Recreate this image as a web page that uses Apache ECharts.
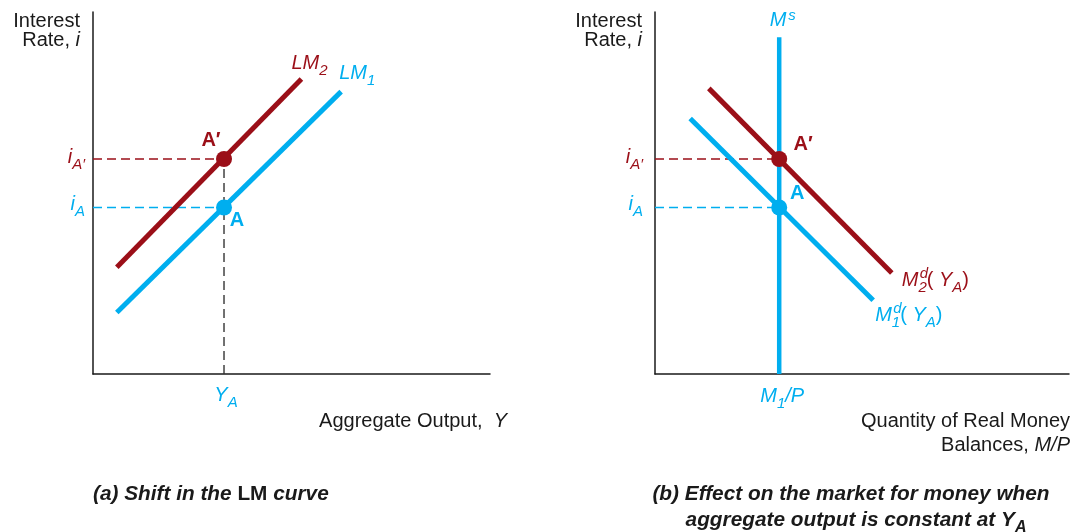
<!DOCTYPE html>
<html>
<head>
<meta charset="utf-8">
<script src="https://cdn.jsdelivr.net/npm/echarts@6/dist/echarts.min.js"></script>
<style>
  html, body { margin: 0; padding: 0; background: #fff; }
  #main { width: 1078px; height: 532px; }
</style>
</head>
<body>
<div id="main"></div>
<script>
const blue = '#00aeef', red = '#9b0f18', ink = '#1a1a1a', dashInk = '#333';
const F = '"Liberation Sans", Arial, Helvetica, sans-serif';

// panel (a): LM curves in (output, interest rate) space
const lm1 = [[6, 17], [62.5, 78]];
const lm2 = [[6, 29.5], [52.5, 81.5]];
const outputA = 33;
const rateA = 46;
const rateA2 = 59.4;

// panel (b): money market
const moneySupply = 30;
const msTop = 93;
const md1 = [[8.5, 70.6], [52.7, 20.4]];
const md2 = [[13, 78.9], [57.2, 27.9]];

let chart = echarts.init(document.getElementById('main'));

function axis(gridIndex) {
  return {
    type: 'value', gridIndex: gridIndex, min: 0, max: 100,
    axisLine: { show: true, onZero: false, lineStyle: { color: ink, width: 1.5 } },
    axisTick: { show: false }, axisLabel: { show: false }, splitLine: { show: false }
  };
}

function line(g, data, color, width, dash) {
  return {
    type: 'line', xAxisIndex: g, yAxisIndex: g, data: data,
    symbol: 'none', silent: true,
    lineStyle: { color: color, width: width, type: dash ? [9, 5] : 'solid', cap: 'butt', opacity: 1 },
    z: dash ? 1 : 2
  };
}

function dot(g, pt, color) {
  return {
    type: 'scatter', xAxisIndex: g, yAxisIndex: g, data: [pt],
    symbolSize: 16, silent: true, itemStyle: { color: color, opacity: 1 }, z: 5
  };
}

let option = {
  animation: false,
  grid: [
    { left: 93, top: 12, width: 397, height: 362 },
    { left: 655, top: 12, width: 414, height: 362 }
  ],
  xAxis: [axis(0), axis(1)],
  yAxis: [axis(0), axis(1)],
  series: [
    // (a)
    line(0, [[0, rateA2], [outputA, rateA2]], red, 1.4, true),
    line(0, [[0, rateA], [outputA, rateA]], blue, 1.4, true),
    line(0, [[outputA, 0], [outputA, rateA2]], dashInk, 1.4, true),
    line(0, lm2, red, 5),
    line(0, lm1, blue, 5),
    dot(0, [outputA, rateA2], red),
    dot(0, [outputA, rateA], blue),
    // (b)
    line(1, [[0, rateA2], [moneySupply, rateA2]], red, 1.4, true),
    line(1, [[0, rateA], [moneySupply, rateA]], blue, 1.4, true),
    line(1, md2, red, 5),
    line(1, md1, blue, 5),
    line(1, [[moneySupply, 0], [moneySupply, msTop]], blue, 4.5),
    dot(1, [moneySupply, rateA2], red),
    dot(1, [moneySupply, rateA], blue)
  ]
};

chart.setOption(option);

function rich(size) {
  const s = Math.round(size * 0.75);
  const lh = size + 10;
  return {
    n: { fontFamily: F, fontSize: size, lineHeight: lh },
    i: { fontFamily: F, fontSize: size, fontStyle: 'italic', lineHeight: lh },
    b: { fontFamily: F, fontSize: size, fontWeight: 'bold', lineHeight: lh },
    bi: { fontFamily: F, fontSize: size, fontWeight: 'bold', fontStyle: 'italic', lineHeight: lh },
    sub: { fontFamily: F, fontSize: s, fontStyle: 'italic', lineHeight: s, verticalAlign: 'bottom' },
    bsub: { fontFamily: F, fontSize: s, fontStyle: 'italic', fontWeight: 'bold', lineHeight: s, verticalAlign: 'bottom' }
  };
}

function txt(x, y, text, color, align, size) {
  size = size || 20;
  return {
    type: 'text', x: x, y: y, silent: true, z: 10,
    style: {
      text: text, fill: color, align: align || 'left', verticalAlign: 'middle',
      fontFamily: F, fontSize: size, rich: rich(size)
    }
  };
}

const P = (g, pt) => chart.convertToPixel({ gridIndex: g }, pt);

let a0 = P(0, [0, 0]);
let lm1End = P(0, lm1[1]);
let lm2End = P(0, lm2[1]);
let ptA = P(0, [outputA, rateA]);
let ptA2 = P(0, [outputA, rateA2]);

let b0 = P(1, [0, 0]);
let msEnd = P(1, [moneySupply, msTop]);
let qA = P(1, [moneySupply, rateA]);
let qA2 = P(1, [moneySupply, rateA2]);
let md1End = P(1, md1[1]);
let md2End = P(1, md2[1]);

let graphic = [
  // panel (a)
  txt(80, 21, '{n|Interest}', ink, 'right'),
  txt(80, 40, '{n|Rate, }{i|i}', ink, 'right'),
  txt(lm2End[0] - 10, lm2End[1] - 16, '{i|LM}{sub|2}', red),
  txt(lm1End[0] - 2, lm1End[1] - 18, '{i|LM}{sub|1}', blue),
  txt(ptA2[0] - 13, ptA2[1] - 18, '{b|A′}', red, 'center'),
  txt(ptA[0] + 13, ptA[1] + 13, '{b|A}', blue, 'center'),
  txt(a0[0] - 8, ptA2[1] - 2, '{i|i}{sub|A′}', red, 'right'),
  txt(a0[0] - 8, ptA[1] - 3, '{i|i}{sub|A}', blue, 'right'),
  txt(ptA[0] + 2, a0[1] + 21, '{i|Y}{sub|A}', blue, 'center'),
  txt(507, 421, '{n|Aggregate Output,  }{i|Y}', ink, 'right'),
  txt(93, 494, '{bi|(a) Shift in the }{b|LM}{bi| curve}', ink, 'left', 20.8),

  // panel (b)
  txt(b0[0] - 13, 21, '{n|Interest}', ink, 'right'),
  txt(b0[0] - 13, 40, '{n|Rate, }{i|i}', ink, 'right'),
  txt(msEnd[0] - 1, msEnd[1] - 17, '{i|M}', blue, 'center'),
  txt(msEnd[0] + 9, msEnd[1] - 22, '{i|s}', blue, 'left', 15),
  txt(qA2[0] + 24, qA2[1] - 14, '{b|A′}', red, 'center'),
  txt(qA[0] + 18, qA[1] - 14, '{b|A}', blue, 'center'),
  txt(b0[0] - 12, qA2[1] - 2, '{i|i}{sub|A′}', red, 'right'),
  txt(b0[0] - 12, qA[1] - 3, '{i|i}{sub|A}', blue, 'right'),
  txt(md2End[0] + 10, md2End[1] + 7, '{i|M}{sub|2}{n|( }{i|Y}{sub|A}{n|)}', red),
  txt(md2End[0] + 28, md2End[1] + 1, '{i|d}', red, 'left', 15),
  txt(md1End[0] + 2, md1End[1] + 15, '{i|M}{sub|1}{n|( }{i|Y}{sub|A}{n|)}', blue),
  txt(md1End[0] + 20, md1End[1] + 9, '{i|d}', blue, 'left', 15),
  txt(msEnd[0] + 3, b0[1] + 22, '{i|M}{sub|1}{i|/P}', blue, 'center'),
  txt(1070, 421, '{n|Quantity of Real Money}', ink, 'right'),
  txt(1070, 445, '{n|Balances, }{i|M/P}', ink, 'right'),
  txt(851, 494, '{bi|(b) Effect on the market for money when}', ink, 'center', 20.8),
  txt(856, 520, '{bi|aggregate output is constant at Y}{bsub|A}', ink, 'center', 20.8)
];

chart.setOption({ graphic: graphic });
</script>
</body>
</html>
